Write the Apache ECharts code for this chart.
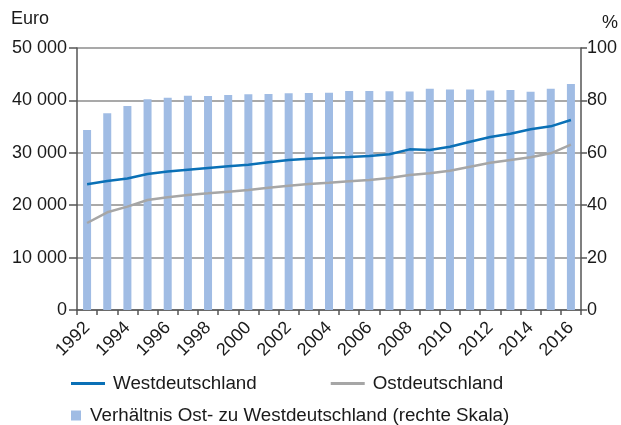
<!DOCTYPE html>
<html>
<head>
<meta charset="utf-8">
<script src="https://cdn.jsdelivr.net/npm/echarts@6/dist/echarts.min.js"></script>
<style>html,body{margin:0;padding:0;background:#fff}#c{width:621px;height:425px}</style>
</head>
<body>
<div id="c"></div>
<script>
const years = ['1992','1993','1994','1995','1996','1997','1998','1999','2000','2001','2002','2003','2004','2005','2006','2007','2008','2009','2010','2011','2012','2013','2014','2015','2016'];
const west = [24000,24600,25100,25950,26450,26780,27100,27420,27740,28190,28630,28880,29070,29200,29390,29710,30660,30530,31170,32120,33020,33650,34480,35050,36260];
const east = [16600,18640,19720,20990,21500,21950,22260,22580,22900,23340,23730,24050,24300,24560,24810,25190,25760,26080,26590,27350,28110,28630,29140,29900,31550];
const ratio = [68.7,75.1,77.9,80.4,81.0,81.8,81.7,82.1,82.3,82.4,82.7,82.8,82.9,83.6,83.6,83.5,83.4,84.4,84.2,84.2,83.8,84.0,83.3,84.4,86.3];
const leftTicks = [0,10000,20000,30000,40000,50000];
const rightTicks = [0,20,40,60,80,100];

const txt = '#1a1a1a';
const font = 'Liberation Sans, Arial, sans-serif';
const fs = 18;
const lfs = 18.8;
const chart = echarts.init(document.getElementById('c'), null, {renderer:'canvas'});
chart.setOption({
  animation:false,
  textStyle:{fontFamily:font},
  grid:{left:77,right:37,top:48,bottom:115,containLabel:false},
  legend:[
    {data:['Westdeutschland','Ostdeutschland'],left:71,top:374,itemGap:74,itemWidth:34,itemHeight:3,icon:'rect',
     padding:0,textStyle:{fontSize:lfs,color:txt,fontFamily:font,padding:[0,0,0,3]}},
    {data:['Verhältnis Ost- zu Westdeutschland (rechte Skala)'],left:71,top:406,itemWidth:10,itemHeight:10,icon:'rect',
     padding:0,textStyle:{fontSize:lfs,color:txt,fontFamily:font,padding:[0,0,0,4]}}
  ],
  xAxis:{type:'category',data:years,boundaryGap:true,
    axisLine:{lineStyle:{color:'#555',width:1.5}},
    axisTick:{show:true,interval:0,length:5,lineStyle:{color:'#555',width:1.5}},
    axisLabel:{interval:1,rotate:45,fontSize:fs,color:txt,margin:15,fontFamily:font}},
  yAxis:[
    {type:'value',min:leftTicks[0],max:leftTicks[leftTicks.length-1],interval:10000,position:'left',
     name:'Euro',nameLocation:'end',nameGap:20,nameTextStyle:{fontSize:fs,color:txt,align:'right',padding:[0,28,0,0],fontFamily:font},
     axisLine:{show:true,lineStyle:{color:'#555',width:1.5}},
     axisTick:{show:true,length:8,lineStyle:{color:'#555',width:1.5}},
     axisLabel:{fontSize:fs,color:txt,margin:10,fontFamily:font,formatter:v=>String(v).replace(/\B(?=(\d{3})+(?!\d))/g,' ')},
     splitLine:{show:true,lineStyle:{color:'#8c8c8c',width:1.5}}},
    {type:'value',min:rightTicks[0],max:rightTicks[rightTicks.length-1],interval:20,position:'right',
     name:'%',nameLocation:'end',nameGap:16,nameTextStyle:{fontSize:fs,color:txt,align:'left',padding:[0,0,0,21],fontFamily:font},
     axisLine:{show:true,lineStyle:{color:'#555',width:1.5}},
     axisTick:{show:true,length:6,lineStyle:{color:'#555',width:1.5}},
     axisLabel:{fontSize:fs,color:txt,margin:6,fontFamily:font},
     splitLine:{show:false}}
  ],
  series:[
    {name:'Verhältnis Ost- zu Westdeutschland (rechte Skala)',type:'bar',yAxisIndex:1,data:ratio,barWidth:8,
     itemStyle:{color:'#a0bce4'},z:1},
    {name:'Westdeutschland',type:'line',yAxisIndex:0,data:west,symbol:'none',lineStyle:{color:'#0a70b6',width:2.5},itemStyle:{color:'#0a70b6'},z:3},
    {name:'Ostdeutschland',type:'line',yAxisIndex:0,data:east,symbol:'none',lineStyle:{color:'#a6a6a6',width:2.5},itemStyle:{color:'#a6a6a6'},z:2}
  ]
});
</script>
</body>
</html>
